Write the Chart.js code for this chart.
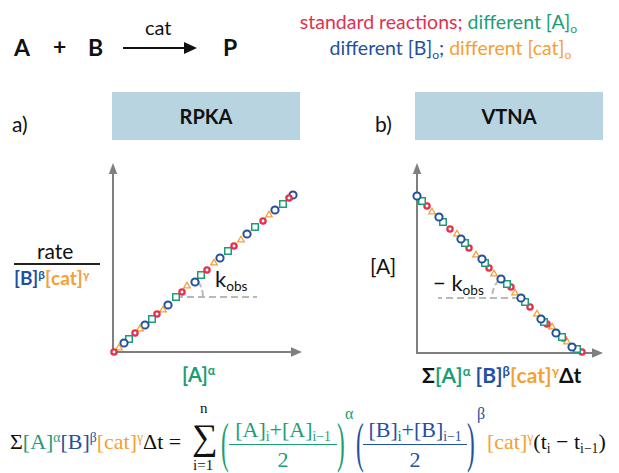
<!DOCTYPE html>
<html><head><meta charset="utf-8">
<script src="https://cdn.jsdelivr.net/npm/chart.js@4"></script>
<style>
html,body{margin:0;padding:0;background:#fff;}
#page{position:relative;width:619px;height:473px;overflow:hidden;font-family:Lato,"Open Sans",sans-serif;color:#111;}
.abs{position:absolute;white-space:nowrap;line-height:1;}
.red{color:#e3304e}.grn{color:#1c9e73}.blu{color:#23509f}.org{color:#f5a032}
.sup{font-size:62%;position:relative;top:-0.55em;}
.sub{font-size:62%;position:relative;top:0.3em;}
.b{font-weight:bold;}
.banner{position:absolute;background:#b7d4e0;font-weight:bold;font-size:20px;display:flex;align-items:center;justify-content:center;}
.fml{font-family:"Liberation Serif","DejaVu Serif",serif;font-size:22px;}
.par{position:absolute;font-family:"Liberation Serif",serif;font-size:22px;line-height:1;transform:scale(1.05,2.5);transform-origin:0 50%;}
.frac{position:absolute;text-align:center;font-family:"Liberation Serif",serif;font-size:22px;line-height:1;}
.frac .bar{height:1.3px;margin:3px 0 4px 0;}
canvas{position:absolute;}
</style>
</head><body>
<div id="page">
  <!-- reaction -->
  <div class="abs b" style="left:14px;top:36px;font-size:23px;">A</div>
  <div class="abs b" style="left:53px;top:35px;font-size:23px;">+</div>
  <div class="abs b" style="left:88px;top:36px;font-size:23px;">B</div>
  <div class="abs" style="left:145px;top:17px;font-size:20px;">cat</div>
  <div class="abs" style="left:123px;top:47px;width:64px;height:2px;background:#111;"></div>
  <div class="abs" style="left:184px;top:42px;width:0;height:0;border-top:6px solid transparent;border-bottom:6px solid transparent;border-left:13px solid #111;"></div>
  <div class="abs b" style="left:223px;top:36px;font-size:23px;">P</div>

  <!-- legend text -->
  <div class="abs" style="left:266px;width:345px;top:12px;font-size:19.5px;text-align:center;">
    <span class="red">standard reactions;</span> <span class="grn">different [A]<span class="sub">o</span></span>
  </div>
  <div class="abs" style="left:278px;width:345px;top:38px;font-size:19.5px;text-align:center;">
    <span class="blu">different [B]<span class="sub">o</span>;</span> <span class="org">different [cat]<span class="sub">o</span></span>
  </div>

  <!-- panel headers -->
  <div class="abs" style="left:12px;top:113px;font-size:21px;">a)</div>
  <div class="banner" style="left:112px;top:92px;width:188px;height:48px;">RPKA</div>
  <div class="abs" style="left:375px;top:113px;font-size:21px;">b)</div>
  <div class="banner" style="left:415px;top:92px;width:188px;height:48px;">VTNA</div>

  <!-- axis labels -->
  <div class="abs" style="left:37px;top:240px;font-size:21px;">rate</div>
  <div class="abs" style="left:14px;top:263px;width:86px;height:1.5px;background:#222;"></div>
  <div class="abs b" style="left:14px;top:268px;font-size:19px;"><span class="blu">[B]<span class="sup">β</span></span><span class="org">[cat]<span class="sup">γ</span></span></div>
  <div class="abs b grn" style="left:182px;top:364px;font-size:20px;">[A]<span class="sup">α</span></div>

  <div class="abs" style="left:370px;top:255px;font-size:21px;">[A]</div>
  <div class="abs b" style="left:422px;top:364px;font-size:21px;">Σ<span class="grn">[A]<span class="sup">α</span></span> <span class="blu">[B]<span class="sup">β</span></span><span class="org">[cat]<span class="sup">γ</span></span>Δt</div>

  <!-- slope labels -->
  <div class="abs" style="left:215px;top:268px;font-size:22px;">k<span class="sub">obs</span></div>
  <div class="abs" style="left:433px;top:272px;font-size:22px;">− k<span class="sub">obs</span></div>

  <canvas id="chartA" width="210" height="215" style="left:100px;top:150px;"></canvas>
  <canvas id="chartB" width="215" height="215" style="left:400px;top:150px;"></canvas>

  <!-- bottom formula -->
  <div class="abs fml" style="left:10px;top:431px;">Σ<span class="grn">[A]<span class="sup">α</span></span><span class="blu">[B]<span class="sup">β</span></span><span class="org">[cat]<span class="sup">γ</span></span>Δt =</div>
  <div class="abs fml" style="left:192px;top:419px;font-size:36px;">∑</div>
  <div class="abs fml" style="left:200px;top:401px;font-size:15px;">n</div>
  <div class="abs fml" style="left:193px;top:458px;font-size:15px;">i=1</div>
  <div class="par grn" style="left:221px;top:432px;">(</div>
  <div class="frac grn" style="left:229px;top:419px;width:108px;">
    <div>[A]<span class="sub">i</span>+[A]<span class="sub">i−1</span></div><div class="bar" style="background:#1c9e73"></div><div>2</div>
  </div>
  <div class="par grn" style="left:337px;top:432px;">)</div>
  <div class="abs fml grn" style="left:345px;top:406px;font-size:16px;">α</div>
  <div class="par blu" style="left:356px;top:432px;">(</div>
  <div class="frac blu" style="left:363px;top:419px;width:104px;">
    <div>[B]<span class="sub">i</span>+[B]<span class="sub">i−1</span></div><div class="bar" style="background:#23509f"></div><div>2</div>
  </div>
  <div class="par blu" style="left:467px;top:432px;">)</div>
  <div class="abs fml blu" style="left:477px;top:406px;font-size:16px;">β</div>
  <div class="abs fml" style="left:487px;top:431px;"><span class="org">[cat]<span class="sup">γ</span></span>(t<span class="sub">i</span> − t<span class="sub">i−1</span>)</div>
</div>

<script>
// ---- data ----
// a) RPKA: x = [A]^alpha, y = rate / ([B]^beta [cat]^gamma)
const rpkaStandard = [[1,0],[22,19],[44,38],[69,60],[94,82],[121,106],[150,131],[176,154]];
const rpkaCat      = [[6,4],[27,23],[50,42],[74,66],[101,89],[128,112],[156,137]];
const rpkaB        = [[11,9],[32,27],[55,47],[82,70],[107,94],[134,118],[162,142],[180,157]];
const rpkaA        = [[16,13],[39,33],[63,55],[88,77],[115,101],[142,125],[170,148]];
// b) VTNA: x = Σ[A]^α[B]^β[cat]^γΔt, y = [A]
const vtnaB        = [[0,157],[22,136],[44,114],[65,94],[84,74],[104,55],[124,34],[139,20],[155,6]];
const vtnaA        = [[5,152],[26,131],[48,110],[68,90],[90,69],[108,51],[127,31],[145,16],[160,4]];
const vtnaStandard = [[10,147],[33,124],[52,105],[72,85],[94,66],[113,46],[130,29],[146,15],[165,1]];
const vtnaCat      = [[15,141],[40,119],[59,98],[77,79],[98,60],[120,39],[135,26],[150,11]];
// axis ranges
const rpkaXRange = [0,189], rpkaYRange = [0,189];
const vtnaXRange = [0,186], vtnaYRange = [0,190];
// slope guides: vertex point and end of the dashed horizontal
const rpkaGuide = {vertex:[63,55], end:144};
const vtnaGuide = {vertex:[102,55], end:21};

const RED='#e3304e', GRN='#1c9e73', BLU='#23509f', ORG='#f5a032', AXIS='#7f7f7f', GUIDE='#b9b9b9';

const styles = {
  standard:{pointStyle:'circle',radius:2.6,borderWidth:2.3,borderColor:RED,backgroundColor:'#fff'},
  cat:{pointStyle:'triangle',radius:3.8,borderWidth:1.3,borderColor:ORG,backgroundColor:'#fff'},
  B:{pointStyle:'circle',radius:3.6,borderWidth:2,borderColor:BLU,backgroundColor:'#fff'},
  A:{pointStyle:'rect',radius:4.6,borderWidth:1.5,borderColor:GRN,backgroundColor:'#fff'}
};
function ds(arr, st){
  return Object.assign({data:arr.map(p=>({x:p[0],y:p[1]})),showLine:false,clip:false}, st);
}
function axisPlugin(guide, arcStart, arcEnd, ccw){
  return {
    id:'axisArrows',
    beforeDatasetsDraw(chart){
      const {ctx, chartArea:a} = chart;
      const xs=chart.scales.x, ys=chart.scales.y;
      ctx.save();
      ctx.strokeStyle=AXIS; ctx.fillStyle=AXIS; ctx.lineWidth=2;
      ctx.beginPath(); ctx.moveTo(a.left,a.top+10); ctx.lineTo(a.left,a.bottom); ctx.lineTo(a.right-10,a.bottom); ctx.stroke();
      ctx.beginPath(); ctx.moveTo(a.right,a.bottom); ctx.lineTo(a.right-11,a.bottom-4.8); ctx.lineTo(a.right-11,a.bottom+4.8); ctx.closePath(); ctx.fill();
      ctx.beginPath(); ctx.moveTo(a.left,a.top); ctx.lineTo(a.left-4.2,a.top+11); ctx.lineTo(a.left+4.2,a.top+11); ctx.closePath(); ctx.fill();
      const vx=xs.getPixelForValue(guide.vertex[0]), vy=ys.getPixelForValue(guide.vertex[1]);
      const ex=xs.getPixelForValue(guide.end);
      ctx.strokeStyle=GUIDE; ctx.lineWidth=2; ctx.setLineDash([7,4]);
      ctx.beginPath(); ctx.moveTo(vx,vy); ctx.lineTo(ex,vy); ctx.stroke();
      ctx.setLineDash([6,3]);
      ctx.beginPath(); ctx.arc(vx,vy,27,arcStart,arcEnd,ccw); ctx.stroke();
      ctx.restore();
    }
  };
}
function makeChart(id, sets, xr, yr, pad, plugin){
  return new Chart(document.getElementById(id), {
    type:'scatter',
    data:{datasets:sets},
    options:{
      responsive:false, animation:false, devicePixelRatio:1,
      layout:{padding:pad},
      plugins:{legend:{display:false}, tooltip:{enabled:false}},
      scales:{
        x:{type:'linear',display:false,min:xr[0],max:xr[1]},
        y:{type:'linear',display:false,min:yr[0],max:yr[1]}
      }
    },
    plugins:[plugin]
  });
}
makeChart('chartA',
  [ds(rpkaStandard,styles.standard), ds(rpkaCat,styles.cat), ds(rpkaB,styles.B), ds(rpkaA,styles.A)],
  rpkaXRange, rpkaYRange, {left:13,top:13,right:8,bottom:13},
  axisPlugin(rpkaGuide, -0.6, 0, false));
makeChart('chartB',
  [ds(vtnaB,styles.B), ds(vtnaA,styles.A), ds(vtnaStandard,styles.standard), ds(vtnaCat,styles.cat)],
  vtnaXRange, vtnaYRange, {left:17,top:13,right:12,bottom:12},
  axisPlugin(vtnaGuide, -2.43, -Math.PI, true));
</script>
</body></html>
